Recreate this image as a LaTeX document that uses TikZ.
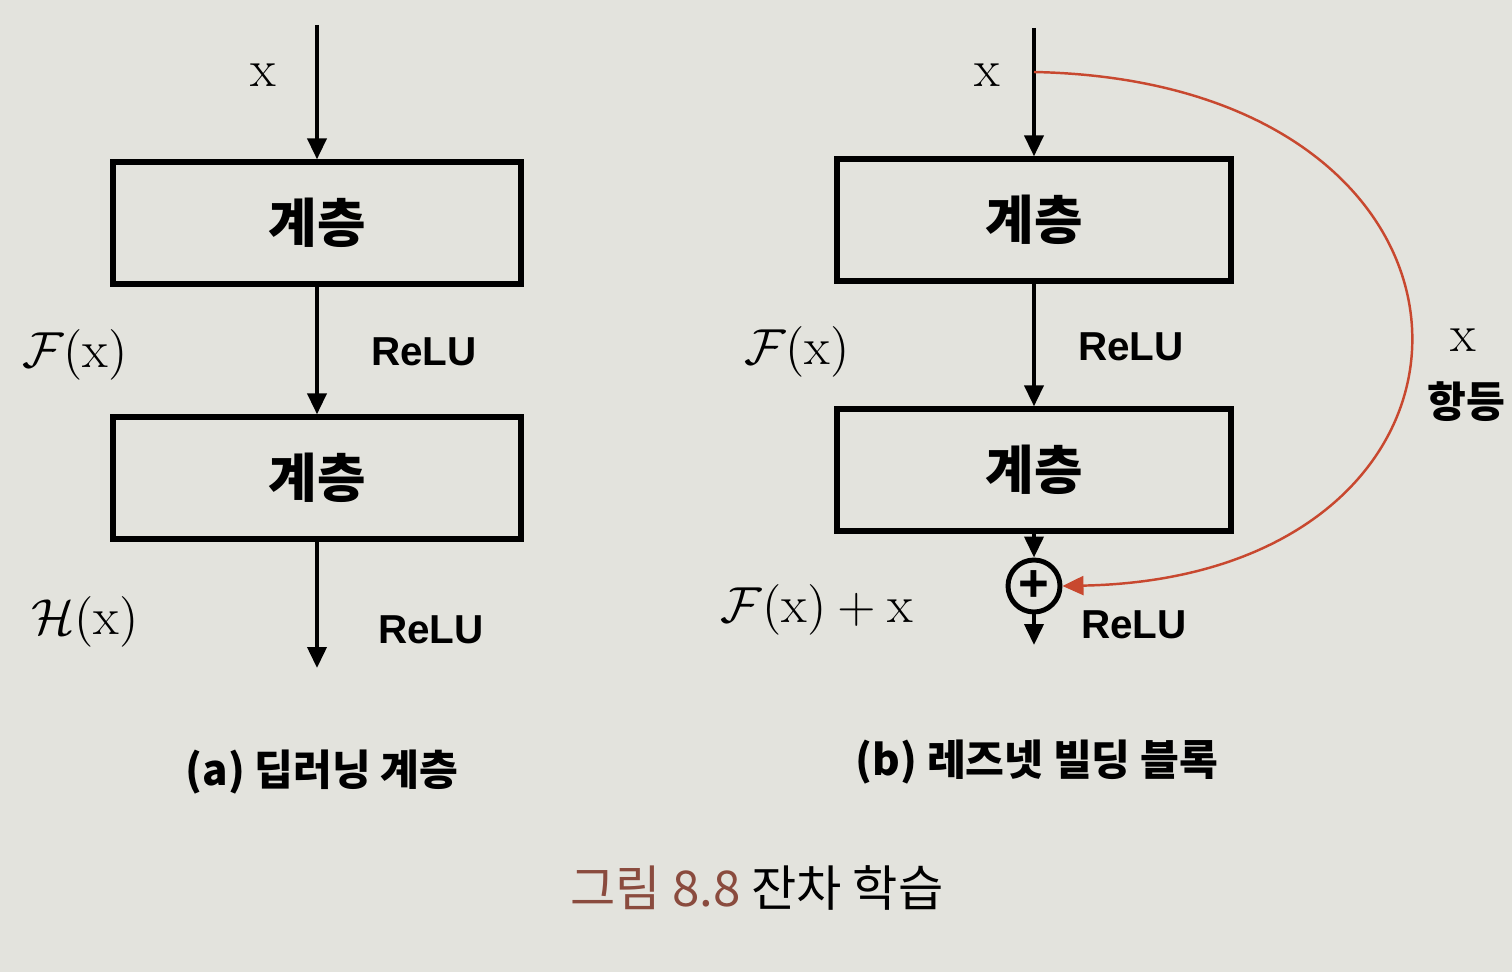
\documentclass[tikz,border=0pt]{standalone}
\usepackage{fontspec}
\usetikzlibrary{arrows.meta}
\newfontfamily\krfont{Noto Sans CJK KR}
\newfontfamily\relufont{Liberation Sans}
\definecolor{pagecol}{HTML}{E3E3DD}
\definecolor{skipcol}{HTML}{C8482F}
\definecolor{figcol}{HTML}{8A4B3E}

\begin{document}
\begin{tikzpicture}[
  >={Triangle[length=2.1mm,width=1.9mm]}, line width=1.1pt,
  layerbox/.style={draw, line width=1.5pt, minimum height=1.22cm,
    font=\krfont\bfseries\fontsize{15}{18}\selectfont},
  relulbl/.style={font=\relufont\bfseries\fontsize{11.5}{14}\selectfont},
  mathlbl/.style={font=\fontsize{15}{18}\selectfont},
  sublbl/.style={font=\krfont\bfseries\fontsize{12}{14}\selectfont}
]
\fill[pagecol] (0,0) rectangle (15.12,9.72);
\useasboundingbox (0,0) rectangle (15.12,9.72);

% (a) plain layers
\coordinate (inA) at (3.17,9.47);
\node[mathlbl] (xA) at (2.63,8.97) {$\mathrm{x}$};
\node[layerbox, minimum width=4.08cm] (layA1) at (3.17,7.49) {계층};
\node[layerbox, minimum width=4.08cm] (layA2) at (3.17,4.94) {계층};
\coordinate (outA) at (3.17,3.04);
\node[mathlbl] (fA) at (0.75,6.17) {$\mathcal{F}(\mathrm{x})$};
\node[relulbl] (reluA1) at (4.24,6.20) {ReLU};
\node[mathlbl] (hA) at (0.85,3.50) {$\mathcal{H}(\mathrm{x})$};
\node[relulbl] (reluA2) at (4.31,3.42) {ReLU};
\node[sublbl] (capA) at (3.22,2.00) {(a) 딥러닝 계층};

\draw[->] (inA) -- (layA1.north);
\draw[->] (layA1.south) -- (layA2.north);
\draw[->] (layA2.south) -- (outA);

% (b) residual block
\coordinate (inB) at (10.34,9.44);
\coordinate (tap) at (10.34,9.00);
\node[mathlbl] (xB) at (9.87,8.97) {$\mathrm{x}$};
\node[layerbox, minimum width=3.94cm] (layB1) at (10.34,7.52) {계층};
\node[layerbox, minimum width=3.94cm] (layB2) at (10.34,5.02) {계층};
\node[draw, circle, line width=1.4pt, minimum size=0.52cm, inner sep=0pt,
  font=\relufont\bfseries\fontsize{15}{15}\selectfont] (sum) at (10.34,3.86) {+};
\coordinate (outB) at (10.34,3.27);
\node[mathlbl] (fB) at (7.97,6.20) {$\mathcal{F}(\mathrm{x})$};
\node[relulbl] (reluB1) at (11.31,6.25) {ReLU};
\node[mathlbl] (fxB) at (8.17,3.62) {$\mathcal{F}(\mathrm{x})+\mathrm{x}$};
\node[relulbl] (reluB2) at (11.34,3.47) {ReLU};
\node[mathlbl] (xskip) at (14.63,6.32) {$\mathrm{x}$};
\node[sublbl] (idlbl) at (14.66,5.70) {항등};
\node[sublbl] (capB) at (10.37,2.10) {(b) 레즈넷 빌딩 블록};

\draw[->] (inB) -- (layB1.north);
\draw[->] (layB1.south) -- (layB2.north);
\draw[->] (layB2.south) -- (sum.north);
\draw[->] (sum.south) -- (outB);
\draw[->, skipcol, line width=0.7pt] (tap) .. controls (15.3,8.9) and (15.3,3.95) .. (sum.east);

\node[font=\krfont\fontsize{14}{17}\selectfont] (figcap) at (7.57,0.84)
  {\textcolor{figcol}{그림 8.8} 잔차 학습};
\end{tikzpicture}
\end{document}
